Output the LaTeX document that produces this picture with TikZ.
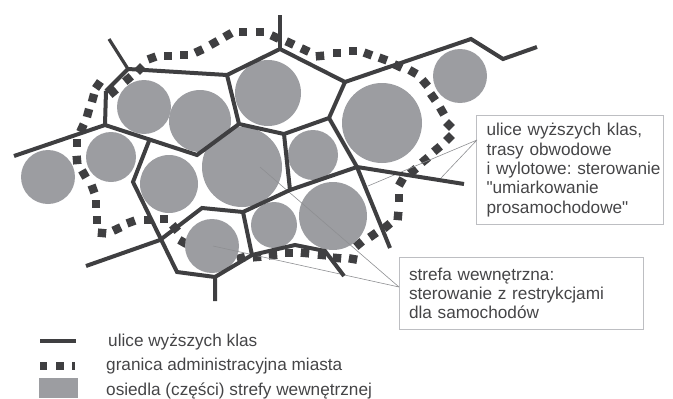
\documentclass[tikz,border=0pt]{standalone}
\usepackage{fontspec}
\newfontfamily\plainsans{Liberation Sans}
\hfuzz=20pt
\definecolor{road}{HTML}{3F3F41}
\definecolor{zone}{HTML}{9C9DA1}
\definecolor{ink}{HTML}{454547}
\definecolor{frameg}{HTML}{BDBEC2}
\definecolor{leader}{HTML}{8E8F92}
\tikzset{
  roadline/.style={draw=road,line width=4pt,line join=miter,line cap=butt},
  zonecirc/.style={fill=zone,draw=none},
  bsquare/.style={fill=road,draw=none,minimum size=8.4pt,inner sep=0pt},
  leaderline/.style={draw=leader,line width=0.6pt},
  notebox/.style={draw=frameg,line width=1pt,fill=none,anchor=north west,align=left,text=ink,
    font=\plainsans\fontsize{17.2}{19.3}\selectfont\frenchspacing,inner xsep=9.5pt,inner ysep=0pt},
  legendtext/.style={anchor=base west,text=ink,font=\plainsans\fontsize{17.2}{19.3}\selectfont\frenchspacing,inner sep=0pt}
}
\begin{document}
\begin{tikzpicture}[x=1pt,y=-1pt]
\useasboundingbox (0,0) rectangle (673,399);
% administrative boundary
\foreach \x/\y/\a in {152/58/-20,168/56/0,184/55/0,199/51/-25,214/43/-30,228/35/-30,243/32/0,260/32/0,275/37/25,290/43/25,305/50/25,320/56/-5,337/53/0,353/51/0,368/54/20,383/59/20,398/66/25,413/72/30,425/83/50,433/97/55,442/111/60,449/125/45,449/138/-45,437/149/-40,425/160/-40,413/171/-40,401/182/-60,399/198/0,398/216/5,387/226/-40,373/235/-35,359/244/-40,353/259/10,337/258/5,322/255/5,305/253/5,289/253/0,273/255/-5,257/257/-5,241/258/-15,183/242/30,175/228/-40,164/219/0,148/220/0,131/222/-20,117/229/-25,102/233/5,97/220/0,96/204/0,93/189/-20,84/174/-30,77/160/-5,77/143/0,82/128/25,88/113/15,93/98/15,98/85/35,113/92/-40,128/79/-40,140/69/45}
  \node[bsquare,rotate=-\a] at (\x,\y) {};
% settlements
\foreach \x/\y/\r in {144/107/27,200/121/31,268/93/33,48/177/27,111/157/25,169/184/29,242/167/40,313/155/25,460/76/27,382/123/40,333/216/34,274/225/23,212/246/27}
  \path[zonecirc] (\x,\y) circle (\r);
% junctions
\coordinate (A) at (128,69);
\coordinate (A0) at (109,39);
\coordinate (B) at (227,75);
\coordinate (C) at (280,49);
\coordinate (C0) at (280,15);
\coordinate (D) at (345,82);
\coordinate (D1) at (471,39);
\coordinate (D2) at (503,59);
\coordinate (D3) at (537,47);
\coordinate (E) at (239,124);
\coordinate (F) at (284,134);
\coordinate (G) at (329,118);
\coordinate (H) at (357,167);
\coordinate (H1) at (464,184);
\coordinate (H2) at (390,248);
\coordinate (P) at (290,190);
\coordinate (Q) at (243,212);
\coordinate (R) at (202,208);
\coordinate (S) at (160,240);
\coordinate (S0) at (86,266);
\coordinate (I) at (197,155);
\coordinate (J) at (105,125);
\coordinate (J0) at (14,156);
\coordinate (J1) at (106,91);
\coordinate (K) at (149,141);
\coordinate (L) at (133,182);
\coordinate (M) at (177,272);
\coordinate (N) at (215,277);
\coordinate (N0) at (215,301);
\coordinate (T) at (252,255);
\coordinate (U) at (295,245);
\coordinate (V) at (325,251);
\coordinate (V0) at (344,276);
% notes and leaders
\node[notebox,minimum height=109pt,text width=167pt,inner xsep=10pt] (note1) at (476,115) {ulice wyższych klas,\\trasy obwodowe\\\mbox{i wylotowe: sterowanie}\\"umiarkowanie\\prosamochodowe"};
\node[notebox,minimum width=244pt,minimum height=72pt,text width=225pt] (note2) at (399,257) {strefa wewnętrzna:\\sterowanie z restrykcjami\\dla samochodów};
\coordinate (t1) at (368,186);
\coordinate (t2) at (441,178);
\coordinate (t3) at (260,167);
\coordinate (t4) at (213,246);
\coordinate (n1) at (477,140);
\coordinate (n2) at (399,287);
\draw[leaderline] (n1) -- (t1) (n1) -- (t2);
\draw[leaderline] (n2) -- (t3) (n2) -- (t4);
% roads
\draw[roadline,line width=3.2pt] (A0) -- (A);
\draw[roadline] (J1) -- (A) -- (B) -- (C) -- (D);
\draw[roadline,line width=3.4pt] (C0) -- (C);
\draw[roadline] (D) -- (D1) -- (D2) -- (D3);
\draw[roadline] (B) -- (E) -- (F) -- (G) -- (D);
\draw[roadline] (G) -- (H) -- (H1);
\draw[roadline] (H) -- (H2);
\draw[roadline] (F) -- (P);
\draw[roadline] (H) -- (P) -- (Q) -- (R) -- (S) -- (S0);
\draw[roadline] (E) -- (I) -- (J) -- (J0);
\draw[roadline] (J) -- (J1);
\draw[roadline] (K) -- (L) -- (M) -- (N) -- (N0);
\draw[roadline] (N) -- (T) -- (U) -- (V) -- (V0);
\draw[roadline] (Q) -- (T);
% legend
\coordinate (la) at (40,341);
\coordinate (lb) at (76,341);
\draw[roadline] (la) -- (lb);
\foreach \x/\w in {43.5/7.6,60/7.6,73.5/3}
  \node[fill=road,minimum width=\w pt,minimum height=7.6pt,inner sep=0pt] at (\x,366) {};
\path[fill=zone] (39,378) rectangle (78,398);
\node[legendtext] (l1) at (108,346) {ulice wyższych klas};
\node[legendtext] (l2) at (106,370.5) {granica administracyjna miasta};
\node[legendtext] (l3) at (106,395) {osiedla (części) strefy wewnętrznej};
\end{tikzpicture}
\end{document}
